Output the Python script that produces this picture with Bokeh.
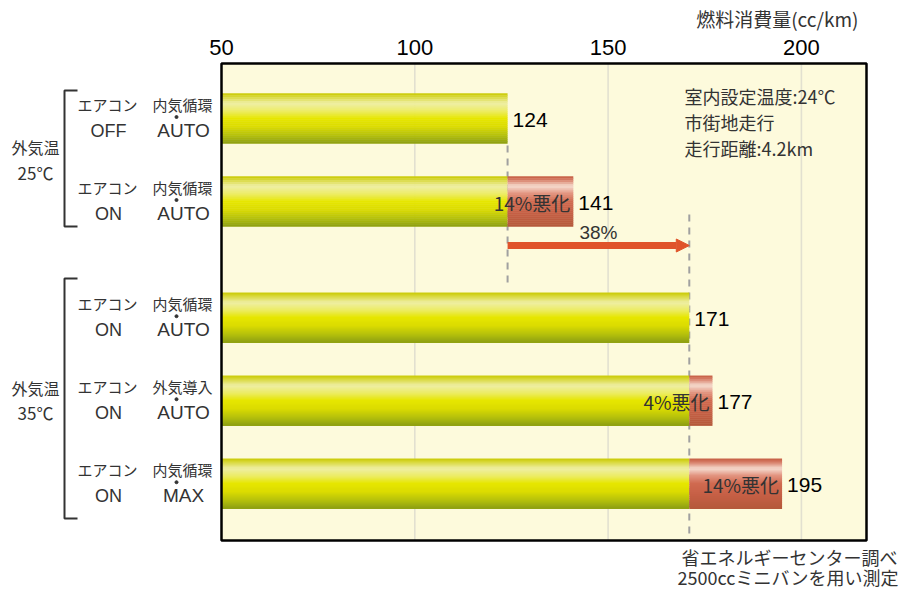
import numpy as np
from bokeh.plotting import figure
from bokeh.models import Range1d, Arrow, NormalHead
from bokeh.core.properties import value
from bokeh.embed import file_html
from bokeh.resources import INLINE

# ---------------- data ----------------
ac_label = ["エアコン", "エアコン", "エアコン", "エアコン", "エアコン"]
ac_state = ["OFF", "ON", "ON", "ON", "ON"]
air_mode = ["内気循環", "内気循環", "内気循環", "外気導入", "内気循環"]
fan_mode = ["AUTO", "AUTO", "AUTO", "AUTO", "MAX"]
base_value = [124, 124, 171, 171, 171]       # reference (yellow) part
total_value = [124, 141, 171, 177, 195]      # fuel consumption cc/km
worse_label = ["", "14%悪化", "", "4%悪化", "14%悪化"]
group_label = ["外気温", "外気温"]
group_temp = ["25℃", "35℃"]
ticks = [50, 100, 150, 200]
arrow_from = 124
arrow_to = 171
arrow_label = "38%"
axis_title = "燃料消費量(cc/km)"
notes = ["室内設定温度:24℃", "市街地走行", "走行距離:4.2km"]
source_notes = ["省エネルギーセンター調べ", "2500ccミニバンを用い測定"]

# ---------------- layout ----------------
W, H = 901, 589
K = 193.3 / 50.0            # px per unit
PX0 = 221                   # pixel of value 50


def vx(px):
    return 50 + (px - PX0) / K


FRAME_L, FRAME_R = 50, vx(866)
FRAME_T, FRAME_B = 63, 540
row_slot = [0, 1, 2.4, 3.4, 4.4]
row_y = [118 + s * 83 for s in row_slot]
BAR_H = 50

JP = value("Noto Sans CJK JP")
NUM = value("Liberation Sans")
TXT = "#333333"

p = figure(width=W, height=H, x_range=Range1d(vx(0), vx(W)), y_range=Range1d(H, 0),
           min_border=0, toolbar_location=None, output_backend="svg",
           x_axis_location=None, y_axis_location=None)
p.xgrid.visible = False
p.ygrid.visible = False
p.outline_line_color = None
p.background_fill_color = "white"
p.border_fill_color = "white"

# plot area background
p.quad(left=[FRAME_L], right=[FRAME_R], top=[FRAME_T], bottom=[FRAME_B],
       fill_color="#fdfadc", line_color=None)
# grid lines
grid_ticks = [t for t in ticks if t > 50]
p.segment(x0=grid_ticks, x1=grid_ticks, y0=[FRAME_T] * len(grid_ticks), y1=[FRAME_B] * len(grid_ticks),
          line_color="#e2e0d0", line_width=1.6)

# dashed reference lines
p.segment(x0=[arrow_from], x1=[arrow_from], y0=[row_y[0] + 27], y1=[285],
          line_color="#a0a0a0", line_width=2, line_dash="7 6")
p.segment(x0=[arrow_to], x1=[arrow_to], y0=[214], y1=[FRAME_B],
          line_color="#a0a0a0", line_width=2, line_dash="7 6")


def interp_color(stops, f):
    for (f0, c0), (f1, c1) in zip(stops[:-1], stops[1:]):
        if f0 <= f <= f1:
            t = (f - f0) / (f1 - f0) if f1 > f0 else 0
            a = np.array([int(c0[i:i + 2], 16) for i in (1, 3, 5)])
            b = np.array([int(c1[i:i + 2], 16) for i in (1, 3, 5)])
            c = np.round(a + (b - a) * t).astype(int)
            return "#%02x%02x%02x" % tuple(c)
    return stops[-1][1]


yellow_stops = [(0.0, "#c8c800"), (0.06, "#d6d630"), (0.2, "#eeeea6"), (0.36, "#ecec60"),
                (0.5, "#e6e600"), (0.66, "#dcdc00"), (0.85, "#b2be0c"), (1.0, "#8c9e12")]
red_stops = [(0.0, "#c45a40"), (0.08, "#d8806a"), (0.2, "#f6dcd0"), (0.34, "#e29480"),
             (0.5, "#d06a50"), (0.72, "#c66046"), (1.0, "#b4583a")]

N = 25
sh = BAR_H / N
red_idx = [i for i in range(len(total_value)) if total_value[i] > base_value[i]]
for k in range(N):
    f = (k + 0.5) / N
    off = -BAR_H / 2 + (k + 0.5) * sh
    p.hbar(y=[y + off for y in row_y], left=[50] * len(base_value), right=base_value,
           height=sh + 0.35, fill_color=interp_color(yellow_stops, f), line_color=None)
    p.hbar(y=[row_y[i] + off for i in red_idx], left=[base_value[i] for i in red_idx],
           right=[total_value[i] for i in red_idx], height=sh + 0.35,
           fill_color=interp_color(red_stops, f), line_color=None)

# frame border
p.quad(left=[FRAME_L], right=[FRAME_R], top=[FRAME_T], bottom=[FRAME_B],
       fill_color=None, line_color="black", line_width=2.5)

# value labels
p.text(x=total_value, y=[y + 1 for y in row_y], text=[str(v) for v in total_value], x_offset=5,
       text_font=NUM, text_font_size="21px", text_color="black",
       text_align="left", text_baseline="middle")
# worsening labels
wi = [i for i in range(len(worse_label)) if worse_label[i]]
p.text(x=[total_value[i] for i in wi], y=[row_y[i] + 1 for i in wi], text=[worse_label[i] for i in wi],
       x_offset=-3, text_font=JP, text_font_size="19px", text_color=TXT,
       text_align="right", text_baseline="middle")

# arrow
ac = "#e0532a"
p.add_layout(Arrow(end=NormalHead(size=13, fill_color=ac, line_color=ac, line_width=1),
                   x_start=arrow_from, y_start=245, x_end=arrow_to, y_end=245,
                   line_color=ac, line_width=7))
p.text(x=[(arrow_from + arrow_to) / 2], y=[232], text=[arrow_label],
       text_font=NUM, text_font_size="19px", text_color=TXT,
       text_align="center", text_baseline="middle")

# top axis tick labels and title
p.text(x=ticks, y=[47] * len(ticks), text=[str(t) for t in ticks],
       text_font=NUM, text_font_size="22px", text_color="black",
       text_align="center", text_baseline="middle")
p.text(x=[vx(858)], y=[18], text=[axis_title], text_font=JP, text_font_size="19px",
       text_color=TXT, text_align="right", text_baseline="middle")

# notes in plot
p.text(x=[vx(684)] * len(notes), y=[95 + 26 * i for i in range(len(notes))], text=notes,
       text_font=JP, text_font_size="18px", text_color=TXT,
       text_align="left", text_baseline="middle")

# source notes
p.text(x=[vx(897)] * len(source_notes), y=[556, 576], text=source_notes,
       text_font=JP, text_font_size="18px", text_color=TXT,
       text_align="right", text_baseline="middle")

# row labels
n = len(row_y)
p.text(x=[vx(107)] * n, y=[y - 14 for y in row_y], text=ac_label, text_font=JP,
       text_font_size="15px", text_color=TXT, text_align="center", text_baseline="middle")
p.text(x=[vx(108)] * n, y=[y + 12 for y in row_y], text=ac_state, text_font=NUM,
       text_font_size="18px", text_color=TXT, text_align="center", text_baseline="middle")
p.text(x=[vx(182)] * n, y=[y - 14 for y in row_y], text=air_mode, text_font=JP,
       text_font_size="15px", text_color=TXT, text_align="center", text_baseline="middle")
p.text(x=[vx(183)] * n, y=[y + 12 for y in row_y], text=fan_mode, text_font=NUM,
       text_font_size="19px", text_color=TXT, text_align="center", text_baseline="middle")
p.scatter(x=[vx(176)] * n, y=[y - 1.5 for y in row_y], size=3, color=TXT)

# group brackets and labels
g_mid = [(row_y[0] + row_y[1]) / 2, row_y[3]]
g_top = [90, 278]
g_bot = [226, 518]
p.multi_line(xs=[[vx(77), vx(64), vx(64), vx(77)] for _ in g_top],
             ys=[[t, t, b, b] for t, b in zip(g_top, g_bot)],
             line_color=TXT, line_width=2)
p.text(x=[vx(35)] * 2, y=[m - 13 for m in g_mid], text=group_label, text_font=JP,
       text_font_size="16px", text_color=TXT, text_align="center", text_baseline="middle")
p.text(x=[vx(35)] * 2, y=[m + 12 for m in g_mid], text=group_temp, text_font=JP,
       text_font_size="17px", text_color=TXT, text_align="center", text_baseline="middle")

open("out.html", "w").write(file_html(p, INLINE))
